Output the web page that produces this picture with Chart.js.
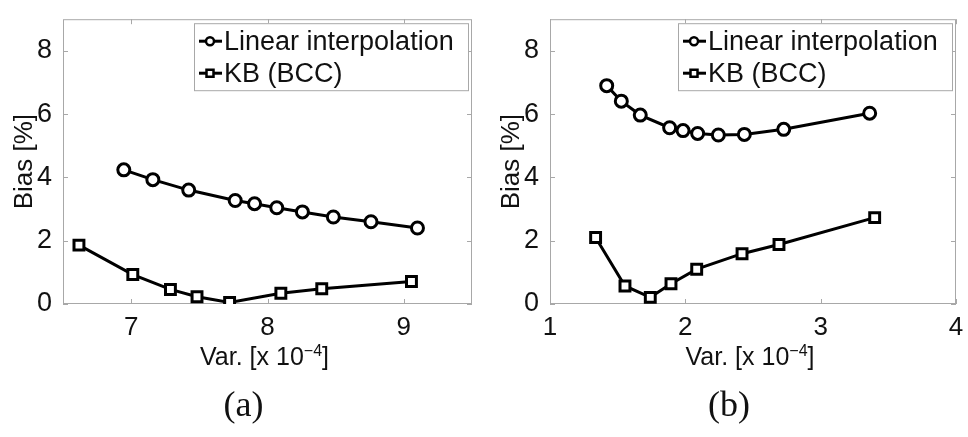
<!DOCTYPE html>
<html>
<head>
<meta charset="utf-8">
<script src="https://cdn.jsdelivr.net/npm/chart.js@4/dist/chart.umd.min.js"></script>
<style>
    body { margin: 0; background: #fff; width: 968px; height: 437px; overflow: hidden; display: flex; }
    canvas { display: block; }
</style>
</head>
<body>
<canvas id="chartA" width="484" height="437"></canvas>
<canvas id="chartB" width="484" height="437"></canvas>
<script>
// Series names + shared y ticks
const seriesLabels = ['Linear interpolation', 'KB (BCC)'];
const yTicks = [0, 2, 4, 6, 8];

// Panel (a)
const linVarA = [6.946, 7.159, 7.422, 7.763, 7.905, 8.068, 8.256, 8.483, 8.759, 9.10];
const linBiasA = [4.24, 3.93, 3.60, 3.27, 3.17, 3.04, 2.91, 2.75, 2.60, 2.40];
const kbVarA = [6.617, 7.012, 7.288, 7.483, 7.722, 8.098, 8.398, 9.056];
const kbBiasA = [1.86, 0.93, 0.46, 0.23, 0.05, 0.34, 0.48, 0.71];
const xTicksA = [7, 8, 9];

// Panel (b)
const linVarB = [1.419, 1.527, 1.667, 1.884, 1.983, 2.091, 2.244, 2.436, 2.727, 3.362];
const linBiasB = [6.90, 6.41, 5.97, 5.57, 5.48, 5.39, 5.34, 5.36, 5.52, 6.03];
const kbVarB = [1.337, 1.554, 1.741, 1.894, 2.084, 2.419, 2.692, 3.399];
const kbBiasB = [2.10, 0.57, 0.21, 0.64, 1.10, 1.59, 1.88, 2.73];
const xTicksB = [1, 2, 3, 4];

const SANS = '"Liberation Sans", Arial, sans-serif';
const SERIF = '"Liberation Serif", "Times New Roman", serif';
const frameColor = '#a8a8a8';
const ink = '#111';

const toPoints = (xs, ys) => xs.map((x, i) => ({ x: x, y: ys[i] }));

// MATLAB-like box with inward ticks on all four sides
const framePlugin = {
    id: 'frame',
    beforeDatasetsDraw(chart) {
        const { ctx, chartArea: a, scales } = chart;
        const tl = 5;
        ctx.save();
        ctx.strokeStyle = frameColor;
        ctx.lineWidth = 1;
        ctx.strokeRect(a.left + 0.5, a.top + 0.5, a.right - a.left - 1, a.bottom - a.top - 1);
        ctx.beginPath();
        scales.x.ticks.forEach(t => {
            const px = Math.round(scales.x.getPixelForValue(t.value)) + 0.5;
            ctx.moveTo(px, a.bottom); ctx.lineTo(px, a.bottom - tl);
            ctx.moveTo(px, a.top); ctx.lineTo(px, a.top + tl);
        });
        scales.y.ticks.forEach(t => {
            const py = Math.round(scales.y.getPixelForValue(t.value)) + 0.5;
            ctx.moveTo(a.left, py); ctx.lineTo(a.left + tl, py);
            ctx.moveTo(a.right, py); ctx.lineTo(a.right - tl, py);
        });
        ctx.stroke();
        ctx.restore();
    }
};

function makeChart(id, linX, linY, kbX, kbY, xMin, xMax, xTicks, padTop, titlePad, panel) {
    // legend box, x-axis title with superscript, and panel letter
    const annotations = {
        id: 'annotations',
        afterDraw(chart) {
            const { ctx, chartArea: a } = chart;
            ctx.save();

            // legend
            const bw = 274, bh = 67;
            const bx = a.right - 4 - bw, by = a.top + 4;
            ctx.fillStyle = '#fff';
            ctx.fillRect(bx, by, bw, bh);
            ctx.strokeStyle = frameColor;
            ctx.lineWidth = 1;
            ctx.strokeRect(bx + 0.5, by + 0.5, bw, bh);
            ctx.font = '27px ' + SANS;
            ctx.textBaseline = 'middle';
            ctx.textAlign = 'left';
            chart.data.datasets.forEach((ds, i) => {
                const ry = by + 18 + i * 32;
                ctx.strokeStyle = '#000';
                ctx.lineWidth = 3;
                ctx.beginPath();
                ctx.moveTo(bx + 5, ry); ctx.lineTo(bx + 28, ry);
                ctx.stroke();
                ctx.fillStyle = '#fff';
                ctx.lineWidth = 2.5;
                ctx.beginPath();
                if (ds.pointStyle === 'circle') ctx.arc(bx + 16, ry, 4, 0, Math.PI * 2);
                else ctx.rect(bx + 12.5, ry - 3.5, 7, 7);
                ctx.fill(); ctx.stroke();
                ctx.fillStyle = ink;
                ctx.fillText(ds.label, bx + 30, ry + 1);
            });

            // x title: Var. [x 10^-4]
            const main = 'Var. [x 10', sup = '\u22124', end = ']';
            ctx.fillStyle = ink;
            ctx.textBaseline = 'alphabetic';
            ctx.font = '25px ' + SANS;
            const wMain = ctx.measureText(main).width;
            const wEnd = ctx.measureText(end).width;
            ctx.font = '16px ' + SANS;
            const wSup = ctx.measureText(sup).width;
            let x = (a.left + a.right) / 2 - 3 - (wMain + wSup + wEnd) / 2;
            ctx.font = '25px ' + SANS;
            ctx.fillText(main, x, 365);
            x += wMain;
            ctx.font = '16px ' + SANS;
            ctx.fillText(sup, x, 356);
            x += wSup;
            ctx.font = '25px ' + SANS;
            ctx.fillText(end, x, 365);

            // panel letter
            ctx.font = '36px ' + SERIF;
            ctx.textAlign = 'center';
            ctx.fillText(panel, (a.left + a.right) / 2 - 24, 416);
            ctx.restore();
        }
    };

    return new Chart(document.getElementById(id), {
        type: 'scatter',
        data: {
            datasets: [
                {
                    label: seriesLabels[0],
                    data: toPoints(linX, linY),
                    showLine: true,
                    borderColor: '#000',
                    borderWidth: 3,
                    pointStyle: 'circle',
                    pointRadius: 6,
                    pointBorderWidth: 3,
                    pointBackgroundColor: '#fff',
                    pointBorderColor: '#000'
                },
                {
                    label: seriesLabels[1],
                    data: toPoints(kbX, kbY),
                    showLine: true,
                    borderColor: '#000',
                    borderWidth: 3,
                    pointStyle: 'rect',
                    pointRadius: 7,
                    pointBorderWidth: 3,
                    pointBackgroundColor: '#fff',
                    pointBorderColor: '#000'
                }
            ]
        },
        options: {
            responsive: false,
            animation: false,
            layout: { padding: { left: 0, top: padTop, right: 12, bottom: 93 } },
            plugins: {
                legend: { display: false },
                tooltip: { enabled: false }
            },
            scales: {
                x: {
                    type: 'linear',
                    min: xMin,
                    max: xMax,
                    afterBuildTicks: s => { s.ticks = xTicks.map(v => ({ value: v })); },
                    afterFit: s => { s.height = 40; },
                    grid: { display: false },
                    border: { display: false },
                    ticks: { color: ink, font: { family: SANS, size: 26 }, padding: 0, maxRotation: 0 }
                },
                y: {
                    type: 'linear',
                    min: 0,
                    max: 9,
                    afterBuildTicks: s => { s.ticks = yTicks.map(v => ({ value: v })); },
                    afterFit: s => { s.width = id === 'chartA' ? 63 : 66; },
                    grid: { display: false },
                    border: { display: false },
                    ticks: { color: ink, font: { family: SANS, size: 27 }, padding: 3 },
                    title: {
                        display: true,
                        text: 'Bias [%]',
                        color: ink,
                        font: { family: SANS, size: 26 },
                        padding: { top: titlePad, bottom: 0 }
                    }
                }
            }
        },
        plugins: [framePlugin, annotations]
    });
}

makeChart('chartA', linVarA, linBiasA, kbVarA, kbBiasA, 6.5, 9.5, xTicksA, 10, 9, '(a)');
makeChart('chartB', linVarB, linBiasB, kbVarB, kbBiasB, 1, 4, xTicksB, 13, 12, '(b)');
</script>
</body>
</html>
